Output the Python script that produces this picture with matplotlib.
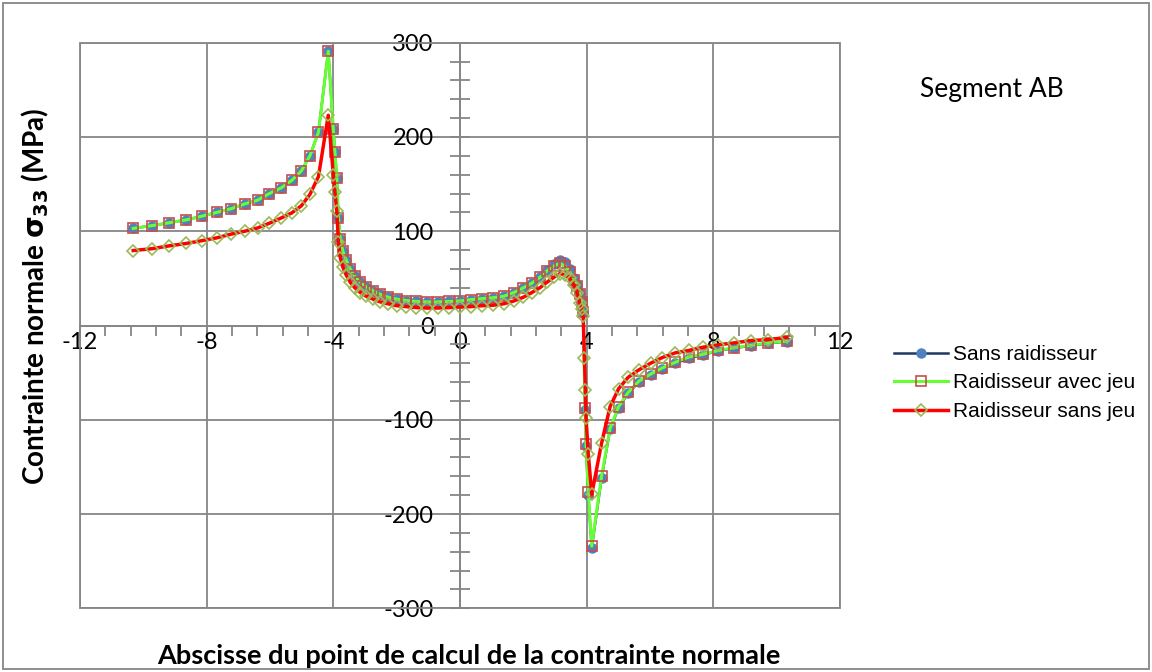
import numpy as np
import matplotlib.pyplot as plt
from matplotlib.patches import Rectangle
from matplotlib.ticker import MultipleLocator

plt.rcParams['axes.unicode_minus'] = False

# Abscisses communes (partie gauche et centrale, puis partie droite)
x_gauche = [-10.32, -9.72, -9.18, -8.65, -8.15, -7.68, -7.22, -6.80, -6.39, -6.02,
            -5.65, -5.31, -5.01, -4.74, -4.47, -4.16]
x_centre = [-4.00, -3.95, -3.89, -3.84, -3.78, -3.70, -3.60, -3.47, -3.32, -3.15,
            -2.96, -2.75, -2.52, -2.27, -2.00, -1.70, -1.38, -1.05, -0.70, -0.35,
            0.00, 0.35, 0.70, 1.05, 1.38, 1.70, 2.00, 2.27, 2.52, 2.75,
            2.96, 3.15, 3.32, 3.47, 3.60, 3.70, 3.78, 3.84]
x_droite = [4.16, 4.47, 4.74, 5.01, 5.31, 5.65, 6.02, 6.39, 6.80, 7.22,
            7.68, 8.15, 8.65, 9.18, 9.72, 10.32]

# Points pres du coin x = 4 (differents selon la serie)
x_coin_ab = [3.89, 3.95, 3.98, 4.05]
x_coin_c = [3.89, 3.93, 3.96, 3.98, 4.05]

# Sans raidisseur
s1_gauche = [103, 106, 109, 112, 116, 120, 124, 129, 133, 140, 146, 154, 164, 180, 205, 291]
s1_centre = [208, 184, 157, 114, 92, 79, 70, 60, 52, 46,
             41, 37, 33, 30, 28, 26.5, 25.5, 25, 25, 25.5,
             26, 27.5, 28.5, 29.5, 31, 35, 40, 45, 51, 59,
             65, 69, 67, 60, 50, 43, 34, 26]
s1_coin = [14, -90, -128, -180]
s1_droite = [-236, -162, -110, -87, -72, -60, -52, -46, -40, -35, -31, -27, -24, -21.5, -19, -17]

# Raidisseur avec jeu
s2_gauche = [103, 106, 109, 112, 116, 120, 124, 129, 133, 140, 146, 154, 164, 180, 205, 291]
s2_centre = [208, 184, 157, 114, 92, 79, 70, 60, 52, 46,
             41, 37, 33, 30, 28, 26.5, 25.5, 25, 25, 25.5,
             26, 27.5, 28.5, 29.5, 31, 35, 40, 45, 51, 58,
             63, 66, 63, 57, 48, 42, 33, 25]
s2_coin = [14, -88, -126, -177]
s2_droite = [-234, -160, -109, -86, -71, -59, -51.5, -45, -39, -33.5, -30.5, -26.5, -23.5, -21, -18.5, -16.5]

# Raidisseur sans jeu
s3_gauche = [79.5, 81.5, 84.5, 87, 90, 93, 97, 100, 103.5, 108.5, 114, 119.5, 127, 139, 158, 223]
s3_centre = [160, 142, 121, 89, 72, 62, 54, 46, 40, 35,
             31, 28, 25, 23, 21, 20, 19, 18.5, 18.5, 19,
             19.5, 20, 21, 21.5, 23, 26, 30, 35, 40, 46,
             51, 55, 54, 50, 43, 35, 24, 18]
s3_coin = [10, -35, -68, -98, -136]
s3_droite = [-179, -125, -86, -67, -55, -47, -40, -34, -29, -26.5, -23, -20.5, -18.5, -16, -15, -12.7]

x_ab = x_gauche + x_centre + x_coin_ab + x_droite
x_c = x_gauche + x_centre + x_coin_c + x_droite
y1 = s1_gauche + s1_centre + s1_coin + s1_droite
y2 = s2_gauche + s2_centre + s2_coin + s2_droite
y3 = s3_gauche + s3_centre + s3_coin + s3_droite

gris = '#868686'

fig = plt.figure(figsize=(11.52, 6.72), dpi=100)
ax = fig.add_axes([80 / 1152, 63.7 / 672, 760 / 1152, 565.6 / 672])

ax.plot(x_ab, y1, color='#1F3864', lw=1.8, marker='o', ms=6.5,
        mfc='#4F81BD', mec='#4F81BD', label='Sans raidisseur', zorder=3)
ax.plot(x_ab, y2, color='#66FF33', lw=2.2, marker='s', ms=6.5,
        mfc='none', mec='#C0504D', mew=1.2, label='Raidisseur avec jeu', zorder=4)
ax.plot(x_c, y3, color='#FF0000', lw=2.5, marker='D', ms=6.5,
        mfc='none', mec='#9BBB59', mew=1.2, label='Raidisseur sans jeu', zorder=5)

ax.set_xlim(-12, 12)
ax.set_ylim(-300, 300)
ax.xaxis.set_major_locator(MultipleLocator(4))
ax.xaxis.set_minor_locator(MultipleLocator(0.8))
ax.yaxis.set_major_locator(MultipleLocator(100))
ax.yaxis.set_minor_locator(MultipleLocator(20))

ax.spines['left'].set_position(('data', 0))
ax.spines['bottom'].set_position(('data', 0))
ax.spines['top'].set_visible(False)
ax.spines['right'].set_visible(False)
for s in ['left', 'bottom']:
    ax.spines[s].set_color(gris)
    ax.spines[s].set_linewidth(1.3)
    ax.spines[s].set_zorder(2)

ax.grid(True, which='major', color=gris, lw=1.3, zorder=0)
ax.set_axisbelow(True)
ax.add_patch(Rectangle((0, 0), 1, 1, transform=ax.transAxes, fill=False,
                       ec=gris, lw=1.3, clip_on=False, zorder=1))

ax.tick_params(axis='y', which='both', direction='inout', color=gris, width=1.3)
ax.tick_params(axis='y', which='major', length=14, pad=12, labelsize=17)
ax.tick_params(axis='y', which='minor', length=14)
ax.tick_params(axis='x', which='both', direction='out', color=gris, width=1.3)
ax.tick_params(axis='x', which='major', length=7, pad=-2, labelsize=17)
ax.tick_params(axis='x', which='minor', length=7)
for lab in ax.get_xticklabels() + ax.get_yticklabels():
    lab.set_family('Lato')

fig.text(35 / 1152, 1 - 296 / 672, 'Contrainte normale $\\mathbf{\\sigma_{33}}$ (MPa)',
         rotation=90, ha='center', va='center', fontsize=20, fontweight='bold',
         family='Lato')
fig.text(469 / 1152, 1 - 656 / 672, 'Abscisse du point de calcul de la contrainte normale',
         ha='center', va='center', fontsize=19.5, fontweight='bold', family='Lato')
fig.text(992 / 1152, 1 - 89 / 672, 'Segment AB', ha='center', va='center',
         fontsize=19, family='Lato')

fig.legend(loc='center left', bbox_to_anchor=(875 / 1152, 1 - 383 / 672),
           frameon=False, prop={'family': 'Liberation Sans', 'size': 15},
           handlelength=2.6, handletextpad=0.25, labelspacing=0.45)

fig.add_artist(Rectangle((0.003, 0.004), 0.994, 0.992, transform=fig.transFigure,
                         fill=False, ec=gris, lw=1.3))

plt.savefig('out.png', dpi=100)
